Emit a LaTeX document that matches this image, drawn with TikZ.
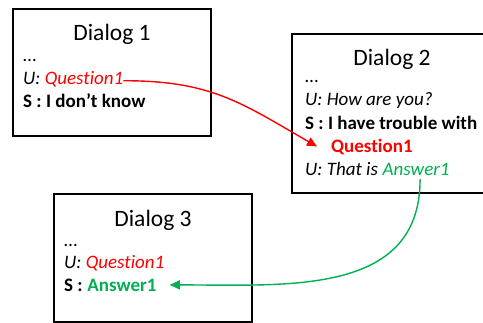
\documentclass[tikz,border=0pt]{standalone}
\usepackage{fontspec}
\setmainfont{Carlito}[Ligatures=NoCommon]
\usetikzlibrary{arrows.meta}
\definecolor{qred}{RGB}{255,0,0}
\definecolor{agreen}{RGB}{0,176,80}
\tikzset{
  dbox/.style={draw=black,line width=1.4pt},
  ttl/.style={inner sep=0pt,anchor=base,font=\fontsize{23.5}{27}\selectfont},
  ln/.style={inner sep=0pt,anchor=base west,font=\fontsize{19}{22}\selectfont},
  conn/.style={line width=1.4pt,-{Triangle[length=10pt,width=9pt]}},
}
\begin{document}
\begin{tikzpicture}[x=1pt,y=-1pt]
\useasboundingbox (0,0) rectangle (483,323);
% Dialog 1
\draw[dbox] (13,9) rectangle (211,136);
\node[ttl] (t1) at (112,41) {Dialog 1};
\node[ln] (a1) at (23,62) {…};
\node[ln] (a2) at (23,85) {\itshape U: \textcolor{qred}{Question1}};
\node[ln] (a3) at (23,108) {\bfseries S : I don’t know};
% Dialog 2
\draw[dbox] (292,34) rectangle (486,193);
\node[ttl] (t2) at (392,66) {Dialog 2};
\node[ln] (b1) at (305,83) {…};
\node[ln] (b2) at (305,106) {\itshape U: How are you?};
\node[ln] (b3) at (305,130) {\bfseries S : I have trouble with};
\node[ln] (b4) at (331,153) {\bfseries\color{qred}Question1};
\node[ln] (b5) at (305,176) {\itshape U: That is\ \mbox{}};
\node[ln] (b6) at (b5.base east) {\itshape\color{agreen}Answer1};
% Dialog 3
\draw[dbox] (54,194) rectangle (252,322);
\node[ttl] (t3) at (153,227) {Dialog 3};
\node[ln] (c1) at (64,247) {…};
\node[ln] (c2) at (64,269) {\itshape U: \textcolor{qred}{Question1}};
\node[ln] (c3) at (64,292) {\bfseries S :\ \mbox{}};
\node[ln] (c4) at (c3.base east) {\bfseries\color{agreen}Answer1};
% connectors
\draw[conn,qred] ([yshift=-1pt]a2.east) to[out=0,in=150,looseness=1.1] ([xshift=-14pt,yshift=1pt]b4.west);
\draw[conn,agreen] ([xshift=4pt,yshift=-3pt]b6.south) to[out=-90,in=0,looseness=1.1] ([xshift=13pt,yshift=1pt]c4.east);
\end{tikzpicture}
\end{document}
